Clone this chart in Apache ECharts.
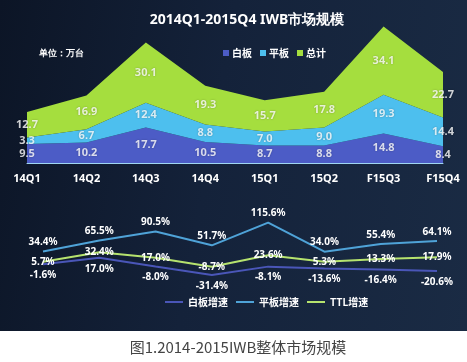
<!DOCTYPE html>
<html><head><meta charset="utf-8">
<script src="https://cdn.jsdelivr.net/npm/echarts@6/dist/echarts.min.js"></script>
<style>
html,body{margin:0;padding:0;background:#fff;}
#wrap{position:relative;width:467px;height:362px;}
#bg{position:absolute;left:0;top:0;width:467px;height:331px;background:linear-gradient(100deg,#0c1526 0%,#14223a 45%,#1a2b44 100%);}
#chart{position:absolute;left:0;top:0;width:467px;height:362px;}
</style></head>
<body><div id="wrap"><div id="bg"></div><div id="chart"></div></div>
<script>
var categories = ['14Q1','14Q2','14Q3','14Q4','15Q1','15Q2','F15Q3','F15Q4'];
var whiteboard = [9.5,10.2,17.7,10.5,8.7,8.8,14.8,8.4];
var tablet = [3.3,6.7,12.4,8.8,7.0,9.0,19.3,14.4];
var total = [12.7,16.9,30.1,19.3,15.7,17.8,34.1,22.7];
var wbGrowth = [-1.6,17.0,-8.0,-31.4,-8.1,-13.6,-16.4,-20.6];
var tabGrowth = [34.4,65.5,90.5,51.7,115.6,34.0,55.4,64.1];
var ttlGrowth = [5.7,32.4,17.0,-8.7,23.6,5.3,13.3,17.9];

var C_WB = '#4c5cc6', C_TAB = '#4dbfee', C_TTL = '#a5de3e';
var fontF = '"Noto Sans","Open Sans",Arial,sans-serif';

function midPoints(vals, bases){
  return vals.map(function(v,i){ return {value:[i, bases[i] + v/2], raw:v}; });
}
var base0 = whiteboard.map(function(){return 0;});
var base1 = whiteboard.slice();
var base2 = whiteboard.map(function(v,i){return v + tablet[i];});

var lblStyle = {show:true, position:'inside', color:'#fff', fontWeight:'bold', fontSize:11, fontFamily:fontF,
  textShadowColor:'rgba(0,0,0,0.35)', textShadowBlur:2,
  formatter:function(p){ return p.data.raw.toFixed(1); }};

function labelSeries(vals, bases){
  return {type:'scatter', xAxisIndex:0, yAxisIndex:0, symbolSize:0, z:10, silent:true,
    data: midPoints(vals, bases), label: lblStyle};
}
function areaSeries(name, vals, color){
  return {name:name, type:'line', stack:'t', xAxisIndex:0, yAxisIndex:0, data:vals,
    showSymbol:false, symbol:'none', lineStyle:{width:0}, itemStyle:{color:color},
    areaStyle:{color:color, opacity:1}};
}
function growthSeries(name, vals, color, pos, dist){
  return {name:name, type:'line', xAxisIndex:1, yAxisIndex:1, data:vals,
    symbol:'circle', symbolSize:0, lineStyle:{width:2, color:color}, itemStyle:{color:color},
    label:{show:true, position:pos, distance:dist, color:'#fff', fontWeight:'bold', fontSize:10, fontFamily:fontF,
      formatter:function(p){ return p.value.toFixed(1)+'%'; }}};
}

var chart = echarts.init(document.getElementById('chart'));
chart.setOption({
  backgroundColor:'transparent',
  animation:false,
  title:[
    {text:'2014Q1-2015Q4 IWB市场规模', left:242, top:8, textAlign:'center',
     textStyle:{color:'#fff', fontSize:14, fontWeight:'bold', fontFamily:fontF}},
    {text:'单位：万台', left:34, top:44, textStyle:{color:'#fff', fontSize:9, fontWeight:'bold', fontFamily:fontF}},
    {text:'图1.2014-2015IWB整体市场规模', left:233, top:335, textAlign:'center',
     textStyle:{color:'#444', fontSize:15, fontWeight:'normal', fontFamily:'"Noto Sans CJK SC",sans-serif'}}
  ],
  legend:[
    {data:['白板','平板','总计'], left:218, top:43, icon:'rect', itemWidth:6, itemHeight:6, itemGap:8,
     textStyle:{color:'#fff', fontSize:10, fontWeight:'bold', fontFamily:'"Noto Sans CJK SC",sans-serif', padding:[0,0,0,-2]}},
    {data:['白板增速','平板增速','TTL增速'], left:160, top:292, icon:'rect', itemWidth:18, itemHeight:2, itemGap:8,
     textStyle:{color:'#fff', fontSize:10, fontWeight:'bold', fontFamily:'"Noto Sans CJK SC",sans-serif'}}
  ],
  grid:[
    {left:27, right:24, top:23, height:140},
    {left:43, right:30, top:221, height:57}
  ],
  xAxis:[
    {type:'category', gridIndex:0, data:categories, boundaryGap:false,
     axisLine:{show:true, lineStyle:{color:'#9fd6f2', width:1}}, axisTick:{show:false},
     axisLabel:{color:'#fff', fontWeight:'bold', fontSize:11, fontFamily:fontF, margin:10}},
    {type:'category', gridIndex:1, data:categories, boundaryGap:false, show:false}
  ],
  yAxis:[
    {type:'value', gridIndex:0, min:0, max:70, show:false, splitLine:{show:false}},
    {type:'value', gridIndex:1, min:-40, max:120, show:false, splitLine:{show:false}}
  ],
  series:[
    areaSeries('白板', whiteboard, C_WB),
    areaSeries('平板', tablet, C_TAB),
    areaSeries('总计', total, C_TTL),
    labelSeries(whiteboard, base0),
    labelSeries(tablet, base1),
    labelSeries(total, base2),
    growthSeries('白板增速', wbGrowth, '#4a56b8', 'bottom', 6),
    growthSeries('平板增速', tabGrowth, '#4fa3d8', 'top', 4),
    growthSeries('TTL增速', ttlGrowth, '#b6e36e', 'inside', 0)
  ]
});
</script></body></html>
